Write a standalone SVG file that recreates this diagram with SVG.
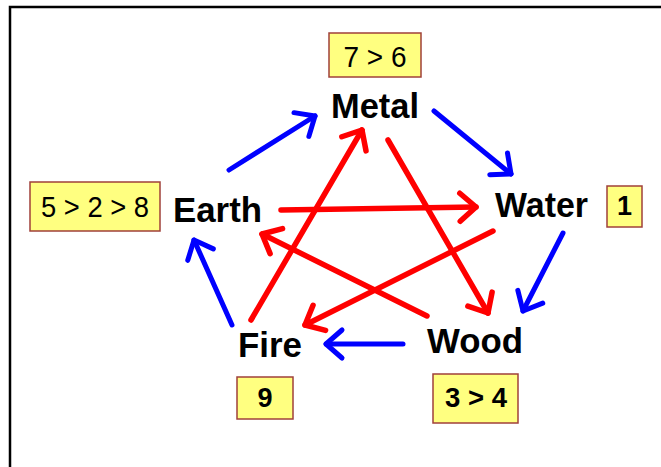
<svg xmlns="http://www.w3.org/2000/svg" width="661" height="467" viewBox="0 0 661 467">
<style>
.lbl{font-family:"Liberation Sans",Arial,sans-serif;font-weight:bold;font-size:35px;fill:#000}
.box{fill:#FFFF80;stroke:#A0403A;stroke-width:1.5}
.num{font-family:"Liberation Sans",Arial,sans-serif;font-size:29px;fill:#000;text-anchor:middle}
.numb{font-family:"Liberation Sans",Arial,sans-serif;font-weight:bold;font-size:27px;fill:#000;text-anchor:middle}
.blue{stroke:#0000FF;stroke-width:5;stroke-linecap:round;fill:none;marker-end:url(#hb)}
.red{stroke:#FF0000;stroke-width:5.5;stroke-linecap:round;fill:none;marker-end:url(#hr)}
</style>
<defs>
<marker id="hb" markerUnits="userSpaceOnUse" viewBox="-20 -18 24 36" refX="0" refY="0" markerWidth="24" markerHeight="36" orient="auto" overflow="visible">
<path d="M-16 -14 L0 0 L-16 14" fill="none" stroke="#0000FF" stroke-width="5" stroke-linecap="round" stroke-linejoin="round"/>
</marker>
<marker id="hr" markerUnits="userSpaceOnUse" viewBox="-20 -18 24 36" refX="0" refY="0" markerWidth="24" markerHeight="36" orient="auto" overflow="visible">
<path d="M-16 -14 L0 0 L-16 14" fill="none" stroke="#FF0000" stroke-width="5.5" stroke-linecap="round" stroke-linejoin="round"/>
</marker>
</defs>
<rect width="661" height="467" fill="#fff"/>
<path d="M10 467 V7 H661" fill="none" stroke="#000" stroke-width="2.5"/>
<g id="connectors">
<line class="blue" x1="229" y1="170" x2="315" y2="116"/>
<line class="blue" x1="434" y1="111" x2="511" y2="174"/>
<line class="blue" x1="563" y1="233" x2="523" y2="311"/>
<line class="blue" x1="403" y1="344" x2="326" y2="344"/>
<line class="blue" x1="232" y1="325" x2="194" y2="240"/>
<line class="red" x1="281" y1="210" x2="476" y2="207"/>
<line class="red" x1="493" y1="231" x2="305" y2="325"/>
<line class="red" x1="251" y1="320" x2="362" y2="130"/>
<line class="red" x1="388" y1="140" x2="488" y2="313"/>
<line class="red" x1="427" y1="316" x2="262" y2="234"/>
</g>
<g id="metal">
<text class="lbl" x="331" y="118" textLength="88" lengthAdjust="spacingAndGlyphs">Metal</text>
<rect class="box" x="329" y="33" width="92" height="44"/>
<text class="num" x="375" y="67" textLength="63" lengthAdjust="spacingAndGlyphs">7 &gt; 6</text>
</g>
<g id="earth">
<text class="lbl" x="173" y="222" textLength="89" lengthAdjust="spacingAndGlyphs">Earth</text>
<rect class="box" x="30" y="182" width="130" height="49"/>
<text class="num" x="95" y="217" textLength="108" lengthAdjust="spacingAndGlyphs">5 &gt; 2 &gt; 8</text>
</g>
<g id="water">
<text class="lbl" x="495" y="217" textLength="93" lengthAdjust="spacingAndGlyphs">Water</text>
<rect class="box" x="607" y="186" width="35" height="41"/>
<text class="numb" x="624.5" y="215">1</text>
</g>
<g id="wood">
<text class="lbl" x="427" y="353" textLength="96" lengthAdjust="spacingAndGlyphs">Wood</text>
<rect class="box" x="433" y="374" width="85" height="49"/>
<text class="numb" x="476" y="407" textLength="62" lengthAdjust="spacingAndGlyphs">3 &gt; 4</text>
</g>
<g id="fire">
<text class="lbl" x="238" y="357" textLength="64" lengthAdjust="spacingAndGlyphs">Fire</text>
<rect class="box" x="237" y="377" width="56" height="42"/>
<text class="numb" x="265" y="407">9</text>
</g>
</svg>
